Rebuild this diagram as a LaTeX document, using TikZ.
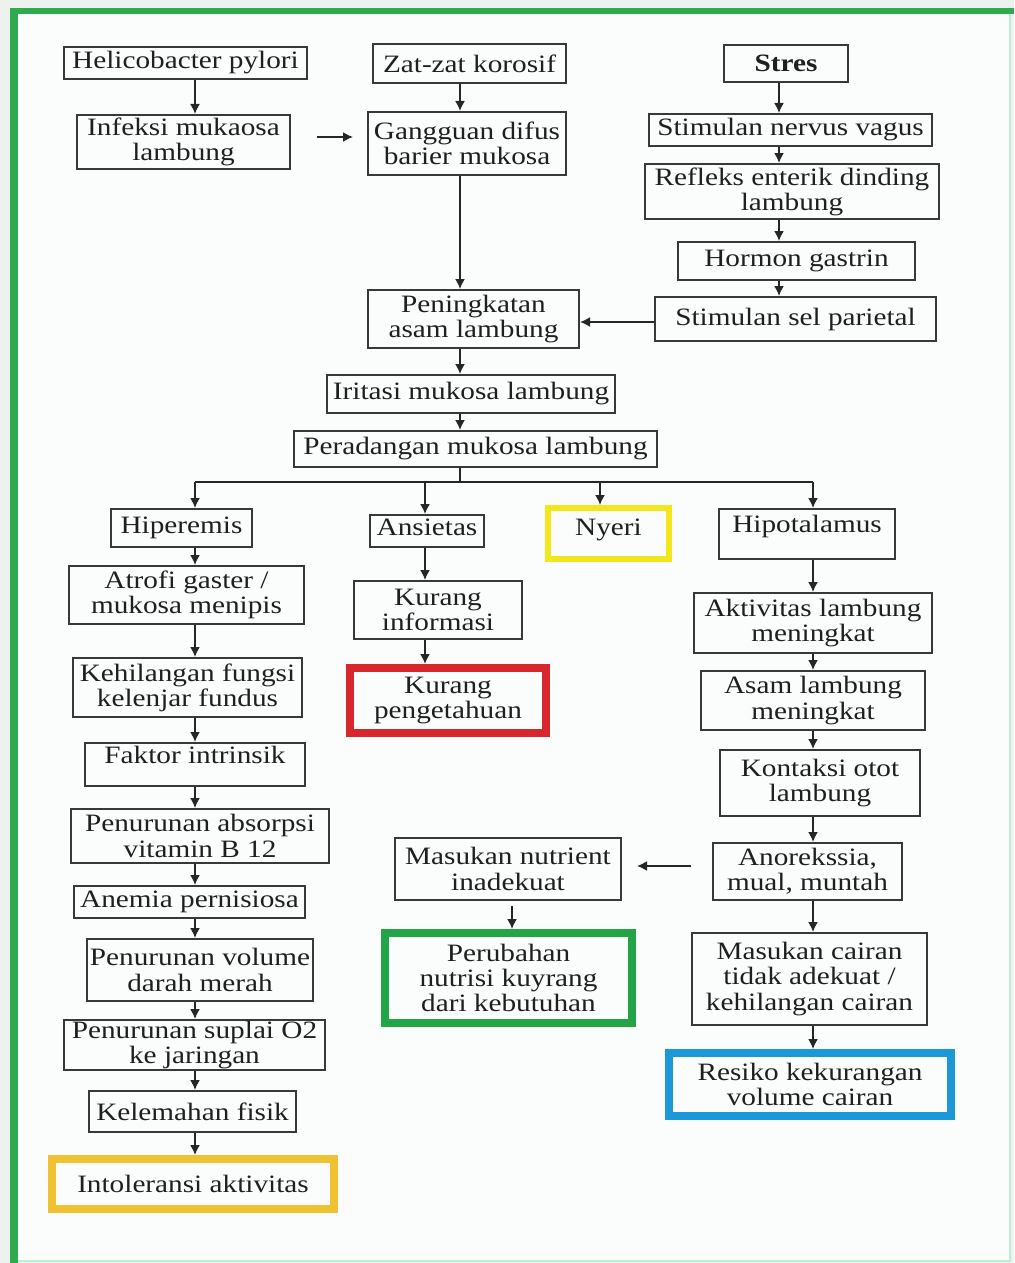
\documentclass[tikz,border=0pt]{standalone}
\usepackage{fontspec}
\setmainfont{Liberation Serif}[FakeStretch=1.17]
\usetikzlibrary{arrows.meta}
\definecolor{cFrame}{HTML}{2EAA4F}
\definecolor{cFrameLight}{HTML}{BDEFD0}
\definecolor{cY}{HTML}{F2E61C}
\definecolor{cR}{HTML}{D7262C}
\definecolor{cG}{HTML}{22A447}
\definecolor{cB}{HTML}{1B98D5}
\definecolor{cO}{HTML}{F0C232}
\definecolor{cBg}{HTML}{FBFDFC}
\definecolor{cOut}{HTML}{EEF2EF}
\begin{document}
\begin{tikzpicture}[x=0.5pt,y=-0.5pt,
  box/.style={draw=black!78, line width=1pt, rectangle, inner sep=0pt, align=center,
    text=black!88, font=\fontsize{12.5}{12.6}\selectfont},
  sz/.style 2 args={minimum width=#1*0.5pt, minimum height=#2*0.5pt},
  arr/.style={draw=black!85, line width=0.8pt, -{Latex[length=5pt,width=5pt]}},
  conn/.style={draw=black!85, line width=0.8pt},
  frame/.style={draw=cFrame}]
\useasboundingbox (0,0) rectangle (1014,1263);
\fill[cOut] (0,0) rectangle (1014,1263);
\fill[cBg] (14,11) rectangle (1010,1261);
% outer frame
\draw[cFrameLight, line width=1pt] (1010,11) -- (1010,1261) -- (14,1261);
\draw[frame, line width=3pt] (10,11) -- (1014,11);
\draw[frame, line width=4pt] (14,9) -- (14,1263);
% column coordinates
\coordinate (colL) at (195,0);
\coordinate (colC) at (460,0);
\coordinate (colS) at (779,0);
\coordinate (colM) at (425,0);
\coordinate (colN) at (600,0);
\coordinate (colR) at (813,0);
\coordinate (colP) at (512,0);
\coordinate (rowIA) at (0,137);
\coordinate (rowSP) at (0,322);
\coordinate (rowAN) at (0,866);
\coordinate (bus) at (460,482);
% nodes
\node[box, sz={243}{32}] (hp) at (185.5,63) {Helicobacter pylori};
\node[box, sz={213}{54}] (inf) at (183.5,142) {Infeksi mukaosa\\lambung};
\node[box, sz={193}{39}] (zat) at (469.5,63.5) {Zat-zat korosif};
\node[box, sz={198}{63}] (gan) at (467,143.5) {Gangguan difus\\barier mukosa};
\node[box, sz={124}{37}] (str) at (786,63.5) {\textbf{Stres}};
\node[box, sz={283}{32}] (snv) at (790.5,130) {Stimulan nervus vagus};
\node[box, sz={294}{55}] (ref) at (792,191.5) {Refleks enterik dinding\\lambung};
\node[box, sz={237}{38}] (hor) at (796.5,261) {Hormon gastrin};
\node[box, sz={281}{44}] (ssp) at (795.5,319) {Stimulan sel parietal};
\node[box, sz={211}{58}] (pen) at (473.5,319) {Peningkatan\\asam lambung};
\node[box, sz={288}{38}] (iri) at (471,394) {Iritasi mukosa lambung};
\node[box, sz={363}{36}] (per) at (475.5,449) {Peradangan mukosa lambung};
\node[box, sz={141}{38}] (hip) at (181.5,528) {Hiperemis};
\node[box, sz={114}{32}, text depth=4pt] (ans) at (427,531) {Ansietas};
\node[box, draw=cY, line width=3pt, sz={121}{51}, text depth=6.2pt] (nye) at (608.5,533.5) {Nyeri};
\node[box, sz={176}{50}, text depth=9.7pt] (hpt) at (807,534) {Hipotalamus};
\node[box, sz={235}{58}] (atr) at (186.5,595) {Atrofi gaster /\\mukosa menipis};
\node[box, sz={168}{58}] (kin) at (438,610) {Kurang\\informasi};
\node[box, draw=cR, line width=4pt, sz={196}{65}] (kpe) at (448,700.5) {Kurang\\pengetahuan};
\node[box, sz={238}{60}] (akt) at (813,623) {Aktivitas lambung\\meningkat};
\node[box, sz={229}{59}] (keh) at (187.5,687.5) {Kehilangan fungsi\\kelenjar fundus};
\node[box, sz={220}{43}, text depth=9.5pt] (fak) at (195,764.5) {Faktor intrinsik};
\node[box, sz={224}{59}] (asm) at (813,700.5) {Asam lambung\\meningkat};
\node[box, sz={258}{54}] (pab) at (200,836) {Penurunan absorpsi\\vitamin B 12};
\node[box, sz={200}{66}] (kon) at (820,783) {Kontaksi otot\\lambung};
\node[box, sz={231}{32}] (ane) at (189.5,902) {Anemia pernisiosa};
\node[box, sz={226}{62}] (mni) at (508,869) {Masukan nutrient\\inadekuat};
\node[box, sz={189}{57}] (ano) at (807.5,871.5) {Anorekssia,\\mual, muntah};
\node[box, sz={226}{62}] (pvd) at (200,970) {Penurunan volume\\darah merah};
\node[box, draw=cG, line width=4pt, sz={247}{90}] (prb) at (508.5,978) {Perubahan\\nutrisi kuyrang\\dari kebutuhan};
\node[box, sz={235}{92}] (mca) at (809.5,979) {Masukan cairan\\tidak adekuat /\\kehilangan cairan};
\node[box, sz={261}{50}] (psu) at (194.5,1045) {Penurunan suplai O2\\ke jaringan};
\node[box, sz={207}{41}] (kel) at (192.5,1111.5) {Kelemahan fisik};
\node[box, draw=cB, line width=4pt, sz={282}{63}] (res) at (810,1084.5) {Resiko kekurangan\\volume cairan};
\node[box, draw=cO, line width=4pt, sz={282}{50}] (int) at (193,1184) {Intoleransi aktivitas};
% connectors - top
\draw[arr] (hp.south -| colL) -- (inf.north -| colL);
\draw[arr, shorten <=13pt, shorten >=7pt] (inf.east |- rowIA) -- (gan.west |- rowIA);
\draw[arr] (zat.south -| colC) -- (gan.north -| colC);
\draw[arr] (gan.south -| colC) -- (pen.north -| colC);
\draw[arr] (str.south -| colS) -- (snv.north -| colS);
\draw[arr] (snv.south -| colS) -- (ref.north -| colS);
\draw[arr] (ref.south -| colS) -- (hor.north -| colS);
\draw[arr] (hor.south -| colS) -- (ssp.north -| colS);
\draw[arr] (ssp.west |- rowSP) -- (pen.east |- rowSP);
\draw[arr] (pen.south -| colC) -- (iri.north -| colC);
\draw[arr] (iri.south -| colC) -- (per.north -| colC);
% bus
\draw[conn] (per.south -| colC) -- (bus);
\draw[conn] (bus -| colL) -- (bus -| colR);
\draw[arr] (bus -| colL) -- (hip.north -| colL);
\draw[arr] (bus -| colM) -- (ans.north -| colM);
\draw[arr] (bus -| colN) -- (nye.north -| colN);
\draw[arr] (bus -| colR) -- (hpt.north -| colR);
% left column
\draw[arr] (hip.south -| colL) -- (atr.north -| colL);
\draw[arr] (atr.south -| colL) -- (keh.north -| colL);
\draw[arr] (keh.south -| colL) -- (fak.north -| colL);
\draw[arr] (fak.south -| colL) -- (pab.north -| colL);
\draw[arr] (pab.south -| colL) -- (ane.north -| colL);
\draw[arr] (ane.south -| colL) -- (pvd.north -| colL);
\draw[arr] (pvd.south -| colL) -- (psu.north -| colL);
\draw[arr] (psu.south -| colL) -- (kel.north -| colL);
\draw[arr] (kel.south -| colL) -- (int.north -| colL);
% middle
\draw[arr] (ans.south -| colM) -- (kin.north -| colM);
\draw[arr] (kin.south -| colM) -- (kpe.north -| colM);
% right column
\draw[arr] (hpt.south -| colR) -- (akt.north -| colR);
\draw[arr] (akt.south -| colR) -- (asm.north -| colR);
\draw[arr] (asm.south -| colR) -- (kon.north -| colR);
\draw[arr] (kon.south -| colR) -- (ano.north -| colR);
\draw[arr] (ano.south -| colR) -- (mca.north -| colR);
\draw[arr] (mca.south -| colR) -- (res.north -| colR);
\draw[arr, shorten <=10.5pt, shorten >=7.5pt] (ano.west |- rowAN) -- (mni.east |- rowAN);
\draw[arr, shorten <=2.5pt] (mni.south -| colP) -- (prb.north -| colP);
\end{tikzpicture}
\end{document}
